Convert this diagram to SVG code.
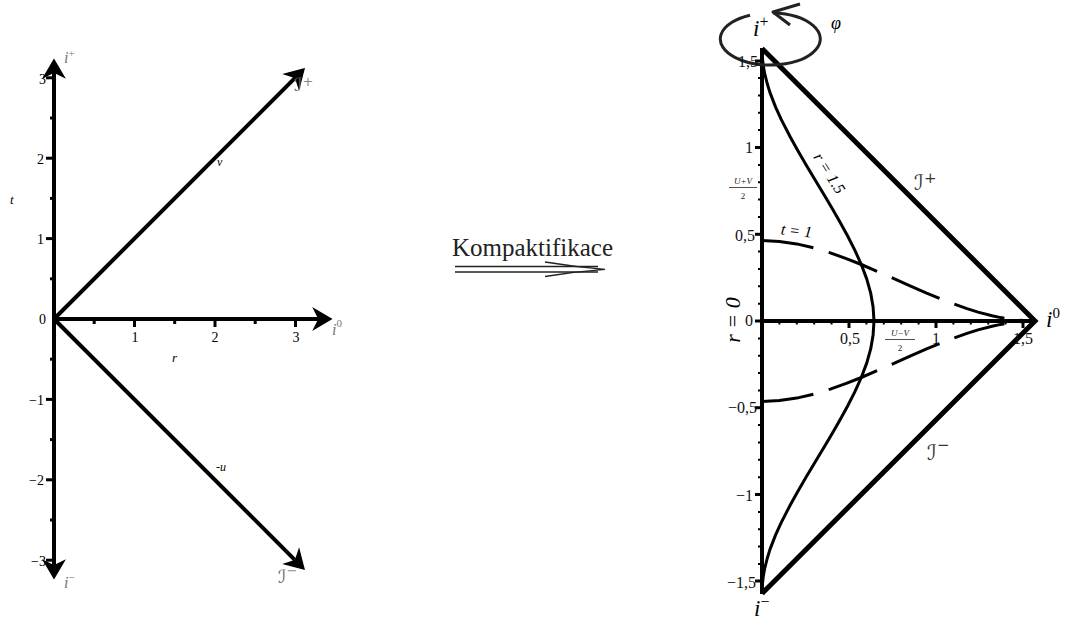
<svg xmlns="http://www.w3.org/2000/svg" width="1069" height="620" viewBox="0 0 1069 620">
<style>
.ax{stroke:#000;stroke-width:4;fill:none}
.tk{stroke:#000;stroke-width:3}
.mt{stroke:#000;stroke-width:2}
.num{font-family:"Liberation Serif",serif;font-size:14px;fill:#000}
.rnum{font-family:"Liberation Serif",serif;font-size:16px;fill:#111}
.it{font-family:"Liberation Serif",serif;font-style:italic;fill:#000}
.gr{font-family:"Liberation Serif",serif;font-style:italic;fill:#777}
.scr{font-family:"DejaVu Serif","DejaVu Sans",serif;font-style:italic}
.curve{stroke:#000;stroke-width:3;fill:none;stroke-linejoin:round}
.dash{stroke:#000;stroke-width:3;fill:none;stroke-dasharray:52 16}
.frac{font-family:"Liberation Serif",serif;font-style:italic;font-size:9px;fill:#222}
.fden{font-family:"Liberation Serif",serif;font-size:9px;fill:#222}
</style>
<defs>
<marker id="ah" markerUnits="userSpaceOnUse" orient="auto" refX="0" refY="0" markerWidth="30" markerHeight="30" overflow="visible">
<path d="M8,0 L-9,-10 L-4,0 L-9,10 Z" fill="#000" stroke="#000" stroke-width="1.5" stroke-linejoin="miter"/>
</marker>
</defs>
<rect width="1069" height="620" fill="#fff"/>

<!-- LEFT DIAGRAM -->
<g id="left-axes">
<line class="ax" x1="54" y1="319" x2="54" y2="68" marker-end="url(#ah)"/>
<line class="ax" x1="54" y1="319" x2="54" y2="570" marker-end="url(#ah)"/>
<line class="ax" x1="54" y1="319" x2="323" y2="319" marker-end="url(#ah)"/>
<line class="ax" x1="54" y1="319" x2="298.3" y2="74.7" marker-end="url(#ah)"/>
<line class="ax" x1="54" y1="319" x2="298.3" y2="563.3" marker-end="url(#ah)"/>
</g>
<g id="left-ticks">
<line class="tk" x1="46" y1="77.8" x2="54" y2="77.8"/>
<line class="tk" x1="50" y1="118" x2="54" y2="118"/>
<line class="tk" x1="46" y1="158.2" x2="54" y2="158.2"/>
<line class="tk" x1="50" y1="198.4" x2="54" y2="198.4"/>
<line class="tk" x1="46" y1="238.6" x2="54" y2="238.6"/>
<line class="tk" x1="50" y1="278.8" x2="54" y2="278.8"/>
<line class="tk" x1="50" y1="359.2" x2="54" y2="359.2"/>
<line class="tk" x1="46" y1="399.4" x2="54" y2="399.4"/>
<line class="tk" x1="50" y1="439.6" x2="54" y2="439.6"/>
<line class="tk" x1="46" y1="479.8" x2="54" y2="479.8"/>
<line class="tk" x1="50" y1="520" x2="54" y2="520"/>
<line class="tk" x1="46" y1="560.2" x2="54" y2="560.2"/>
<line class="tk" x1="94.2" y1="319" x2="94.2" y2="324"/>
<line class="tk" x1="134.5" y1="319" x2="134.5" y2="327"/>
<line class="tk" x1="174.7" y1="319" x2="174.7" y2="324"/>
<line class="tk" x1="215" y1="319" x2="215" y2="327"/>
<line class="tk" x1="255.2" y1="319" x2="255.2" y2="324"/>
<line class="tk" x1="295.5" y1="319" x2="295.5" y2="327"/>
</g>
<g id="left-labels">
<text class="num" x="46" y="84" text-anchor="end">3</text>
<text class="num" x="44" y="164" text-anchor="end">2</text>
<text class="num" x="44" y="244" text-anchor="end">1</text>
<text class="num" x="46" y="324" text-anchor="end">0</text>
<text class="num" x="44" y="405" text-anchor="end">−1</text>
<text class="num" x="44" y="485" text-anchor="end">−2</text>
<text class="num" x="46" y="566" text-anchor="end">−3</text>
<text class="num" x="135" y="342" text-anchor="middle">1</text>
<text class="num" x="215" y="342" text-anchor="middle">2</text>
<text class="num" x="296" y="342" text-anchor="middle">3</text>
<text class="it" x="10" y="204" font-size="13">t</text>
<text class="it" x="172" y="362" font-size="13">r</text>
<text class="it" x="217" y="166" font-size="12">v</text>
<text class="it" x="216" y="471" font-size="12">-u</text>
<text class="gr" x="64" y="63" font-size="16">i<tspan dy="-6" font-size="11" font-style="normal">+</tspan></text>
<text class="gr" x="64" y="588" font-size="16">i<tspan dy="-7" font-size="11" font-style="normal">−</tspan></text>
<text class="gr" x="332" y="335" font-size="16">i<tspan dy="-8" font-size="11" font-style="normal">0</tspan></text>
<text class="scr" x="294" y="91" font-size="18" fill="#666">ℐ<tspan dy="-5" font-size="13" font-style="normal" fill="#888">+</tspan></text>
<text class="scr" x="278" y="583" font-size="18" fill="#666">ℐ<tspan dy="-8" font-size="13" font-style="normal" fill="#888">−</tspan></text>
</g>

<!-- MIDDLE -->
<g id="transform">
<text x="452" y="256" font-family="Liberation Serif, serif" font-size="25" fill="#222">Kompaktifikace</text>
<line x1="455" y1="266.5" x2="598" y2="266.5" stroke="#222" stroke-width="1.3"/>
<line x1="455" y1="272" x2="598" y2="272" stroke="#222" stroke-width="1.3"/>
<path d="M545,262 Q575,267 605,269.3 Q575,271.5 545,276.5" fill="none" stroke="#222" stroke-width="1.3"/>
</g>

<!-- RIGHT DIAGRAM -->
<g id="right-axes">
<line class="ax" x1="762" y1="48" x2="762" y2="594"/>
<line class="ax" x1="762" y1="321" x2="1035" y2="321"/>
<polyline points="762,48.5 1035,321 762,593.5" fill="none" stroke="#000" stroke-width="5" stroke-linejoin="miter"/>
</g>
<g id="right-ticks">
<line class="tk" x1="755" y1="61" x2="762" y2="61"/>
<line class="tk" x1="755" y1="147.5" x2="762" y2="147.5"/>
<line class="tk" x1="755" y1="234.3" x2="762" y2="234.3"/>
<line class="tk" x1="755" y1="321" x2="762" y2="321"/>
<line class="tk" x1="755" y1="407.7" x2="762" y2="407.7"/>
<line class="tk" x1="755" y1="494.5" x2="762" y2="494.5"/>
<line class="tk" x1="755" y1="581" x2="762" y2="581"/>
<path class="mt" d="M758,78.1h4M758,95.4h4M758,112.8h4M758,130.1h4M758,164.9h4M758,182.2h4M758,199.6h4M758,216.9h4M758,251.6h4M758,269h4M758,286.3h4M758,303.7h4M758,338.4h4M758,355.7h4M758,373.1h4M758,390.4h4M758,425.1h4M758,442.5h4M758,459.8h4M758,477.2h4M758,511.9h4M758,529.2h4M758,546.6h4M758,563.9h4"/>
<line class="tk" x1="849" y1="321" x2="849" y2="328"/>
<line class="tk" x1="936" y1="321" x2="936" y2="328"/>
<line class="tk" x1="1023" y1="321" x2="1023" y2="328"/>
<path class="mt" d="M779.4,321v3.5M796.8,321v3.5M814.2,321v3.5M831.6,321v3.5M866.4,321v3.5M883.8,321v3.5M901.2,321v3.5M918.6,321v3.5M953.4,321v3.5M970.8,321v3.5M988.2,321v3.5M1005.6,321v3.5"/>
</g>
<g id="curve-r15">
<polyline class="curve" points="762,48.5 762.3,57.2 763.3,65.8 764.65,73.4 767.2,83.5 769.9,92.4 775.7,107.4 781.2,119.4 790.4,137.3 797.2,149.6 806.3,165.2 818,184.7 824.8,196.1 832.2,208.5 839.8,221.8 847.5,235.7 854.8,250.1 861.3,264.5 866.7,278.9 870.7,293.1 873.1,307.1 874,321 873.1,334.9 870.7,348.9 866.7,363.1 861.3,377.5 854.8,391.9 847.5,406.3 839.8,420.2 832.2,433.5 824.8,445.9 818,457.3 806.3,476.8 797.2,492.4 790.4,504.7 781.2,522.6 775.7,534.6 769.9,549.6 767.2,558.5 764.65,568.6 763.3,576.2 762.3,584.8 762,593.5"/>
</g>
<g id="curve-t1">
<polyline class="dash" points="762,240.6 779.4,241.4 796.7,243.9 813.7,247.9 830.3,252.9 846.3,258.6 861.3,264.5 887.8,276 909.5,285.6 926.6,293.1 951.1,303 967,308.7 978,312.1 992.1,315.8 1000.6,317.6 1010.5,319.3 1017.9,320.1 1026.6,320.8"/>
</g>
<g id="curve-tm1">
<polyline class="dash" points="762,401.4 779.4,400.6 796.7,398.1 813.7,394.1 830.3,389.1 846.3,383.4 861.3,377.5 887.8,366 909.5,356.4 926.6,348.9 951.1,339 967,333.3 978,329.9 992.1,326.2 1000.6,324.4 1010.5,322.7 1017.9,321.9 1026.6,321.2"/>
</g>
<g id="rotation">
<path d="M773,13 A50,26 0 1,1 750,15.2" fill="none" stroke="#222" stroke-width="3"/>
<path d="M800,4 L773,12 L790,25" fill="none" stroke="#222" stroke-width="3" stroke-linejoin="round"/>
</g>
<g id="right-labels">
<text class="it" x="753" y="36" font-size="23" fill="#333">i<tspan dy="-9" font-size="16" font-style="normal">+</tspan></text>
<text class="it" x="831" y="29" font-size="18" fill="#333">φ</text>
<text class="rnum" x="758" y="67" text-anchor="end">1,5</text>
<text class="rnum" x="753" y="153" text-anchor="end">1</text>
<text class="frac" x="743" y="184" text-anchor="middle">U+V</text>
<line x1="729" y1="187.5" x2="757" y2="187.5" stroke="#222" stroke-width="0.8"/>
<text class="fden" x="743" y="199" text-anchor="middle">2</text>
<text class="rnum" x="755" y="241" text-anchor="end">0,5</text>
<text class="rnum" x="753" y="326" text-anchor="end">0</text>
<text class="rnum" x="757" y="413" text-anchor="end">−0,5</text>
<text class="rnum" x="753" y="501" text-anchor="end">−1</text>
<text class="rnum" x="756" y="588" text-anchor="end">−1,5</text>
<text class="rnum" x="850" y="344" text-anchor="middle">0,5</text>
<text class="rnum" x="936" y="344" text-anchor="middle">1</text>
<text class="rnum" x="1023" y="344" text-anchor="middle">1,5</text>
<text class="frac" x="900" y="336" text-anchor="middle">U−V</text>
<line x1="885" y1="339.5" x2="915" y2="339.5" stroke="#222" stroke-width="0.8"/>
<text class="fden" x="900" y="351" text-anchor="middle">2</text>
<text class="it" x="1046" y="327" font-size="23" fill="#333">i<tspan dy="-9" font-size="15" font-style="normal">0</tspan></text>
<text class="it" x="754" y="616" font-size="23" fill="#333">i<tspan dy="-9" font-size="16" font-style="normal">−</tspan></text>
<text class="it" font-size="16" fill="#222" transform="translate(796,236) rotate(6)" text-anchor="middle">t = 1</text>
<text class="it" font-size="16" fill="#222" transform="translate(825,176) rotate(58)" text-anchor="middle">r = 1.5</text>
<text class="it" font-size="22" fill="#222" transform="translate(740,320) rotate(-90)" text-anchor="middle">r = 0</text>
<text class="scr" x="914" y="190" font-size="21" fill="#333">ℐ<tspan dy="-7" font-size="15" font-style="normal">+</tspan></text>
<text class="scr" x="927" y="460" font-size="21" fill="#333">ℐ<tspan dy="-10" font-size="15" font-style="normal">−</tspan></text>
</g>
</svg>
